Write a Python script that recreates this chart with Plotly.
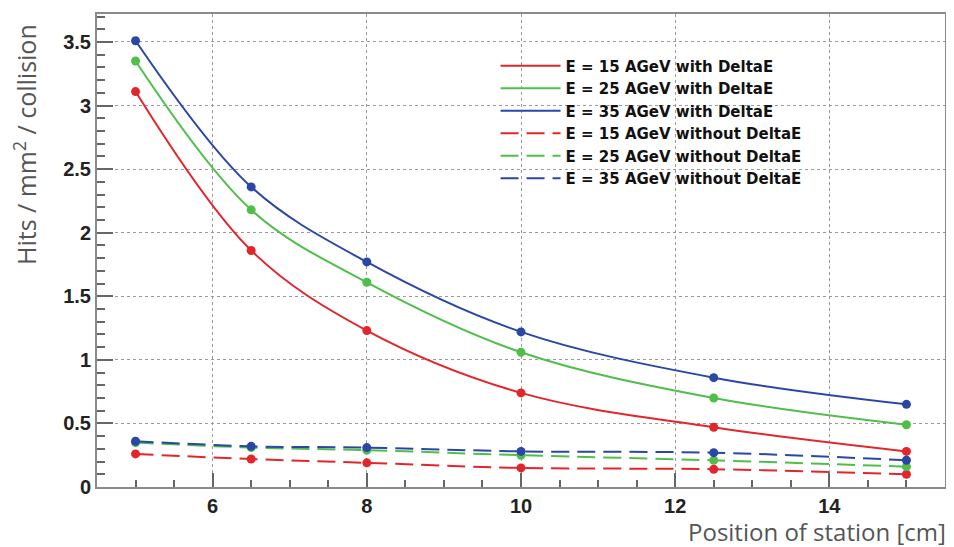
import plotly.graph_objects as go

positions = [5, 6.5, 8, 10, 12.5, 15]

with_15 = [3.11, 1.86, 1.23, 0.74, 0.47, 0.28]
with_25 = [3.35, 2.18, 1.61, 1.06, 0.70, 0.49]
with_35 = [3.51, 2.36, 1.77, 1.22, 0.86, 0.65]
without_15 = [0.26, 0.22, 0.19, 0.15, 0.14, 0.10]
without_25 = [0.35, 0.31, 0.29, 0.25, 0.21, 0.16]
without_35 = [0.36, 0.32, 0.31, 0.28, 0.27, 0.21]

names = [
    "E = 15 AGeV with DeltaE",
    "E = 25 AGeV with DeltaE",
    "E = 35 AGeV with DeltaE",
    "E = 15 AGeV without DeltaE",
    "E = 25 AGeV without DeltaE",
    "E = 35 AGeV without DeltaE",
]
series = [with_15, with_25, with_35, without_15, without_25, without_35]
colors = ["#e3262b", "#4fbf4a", "#2b47a6", "#e3262b", "#4fbf4a", "#2b47a6"]
dashes = ["solid", "solid", "solid", "18px,8px", "18px,8px", "18px,8px"]

fig = go.Figure()
for name, vals, col, dash in zip(names, series, colors, dashes):
    fig.add_trace(go.Scatter(
        x=positions, y=vals, mode="lines", name=name,
        line=dict(color=col, width=2, dash=dash, shape="spline", smoothing=1.0),
        legendgroup=name,
    ))
    fig.add_trace(go.Scatter(
        x=positions, y=vals, mode="markers", showlegend=False,
        marker=dict(color=col, size=9, symbol="circle"),
        legendgroup=name, hoverinfo="skip",
    ))

axis_common = dict(
    showline=True, linecolor="#8a8a8a", linewidth=2, mirror=True,
    ticks="inside", tickcolor="#666", tickwidth=1.5,
    showgrid=True, gridcolor="#9a9a9a", gridwidth=1, griddash="dot",
    zeroline=False, automargin=False,
    tickfont=dict(family="Liberation Sans, Arial, sans-serif", size=20, color="#222", weight="bold"),
)

fig.update_xaxes(
    range=[4.5, 15.5], tickvals=[6, 8, 10, 12, 14], ticklen=14,
    minor=dict(dtick=0.5, tick0=0, ticks="inside", ticklen=7, tickcolor="#666", showgrid=False),
    **axis_common,
)
fig.update_yaxes(
    range=[0, 3.72], tickvals=[0, 0.5, 1, 1.5, 2, 2.5, 3, 3.5],
    ticktext=["0", "0.5", "1", "1.5", "2", "2.5", "3", "3.5"], ticklen=16,
    minor=dict(dtick=0.1, tick0=0, ticks="inside", ticklen=8, tickcolor="#666", showgrid=False),
    **axis_common,
)

# page body has an 8px margin; the figure is sized so it fills the 954x547 window
fig.update_layout(
    width=946, height=539,
    margin=dict(l=89, r=9, t=6, b=60),
    paper_bgcolor="white", plot_bgcolor="white",
    showlegend=True,
    legend=dict(
        x=0.47, y=0.925, xanchor="left", yanchor="top",
        bgcolor="rgba(255,255,255,0)", borderwidth=0,
        font=dict(family="DejaVu Sans, sans-serif", size=15, color="#111", weight="bold"),
        tracegroupgap=0, itemwidth=60,
    ),
    annotations=[
        dict(text="Position of station [cm]", xref="paper", yref="paper",
             x=1.004, y=-0.056, xanchor="right", yanchor="top", showarrow=False,
             font=dict(family="Open Sans, DejaVu Sans, sans-serif", size=24, color="#555")),
        dict(text="Hits / mm<sup>2</sup> / collision", xref="paper", yref="paper",
             x=-0.085, y=0.725, xanchor="center", yanchor="middle", textangle=-90, showarrow=False,
             font=dict(family="Open Sans, DejaVu Sans, sans-serif", size=25, color="#555")),
    ],
)

fig.write_html("out.html")
